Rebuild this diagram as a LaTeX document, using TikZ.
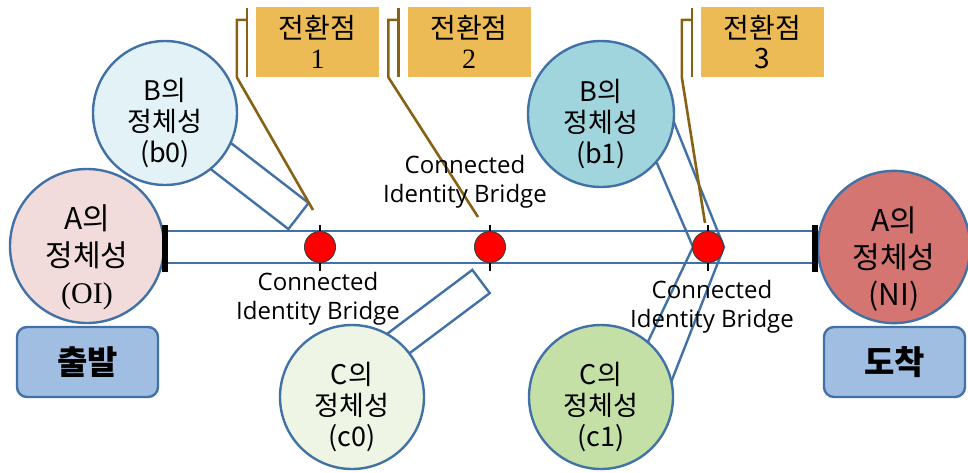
\documentclass[tikz,border=0pt]{standalone}
\usepackage{fontspec}
\setmainfont{Noto Sans CJK KR}
\newfontfamily\latinfont{Open Sans}
\newfontfamily\seriffont{Liberation Serif}
\usetikzlibrary{calc,backgrounds}
\definecolor{lineblue}{RGB}{65,113,165}
\definecolor{oifill}{RGB}{242,220,219}
\definecolor{nifill}{RGB}{212,117,114}
\definecolor{bzfill}{RGB}{227,242,246}
\definecolor{bofill}{RGB}{160,213,221}
\definecolor{czfill}{RGB}{238,245,228}
\definecolor{cofill}{RGB}{196,224,166}
\definecolor{endblue}{RGB}{160,190,226}
\definecolor{turnyellow}{RGB}{237,187,86}
\definecolor{turnbrown}{RGB}{135,98,20}
\newcommand\topstrut{\rule{0pt}{1.6em}}

\begin{document}
\begin{tikzpicture}[x=1pt,y=-1pt,
 idcirc/.style={circle,draw=lineblue,line width=2.4pt,inner sep=0pt,align=center},
 bigtxt/.style={font=\fontsize{30}{37}\selectfont},
 smalltxt/.style={font=\fontsize{27}{31}\selectfont},
 endbox/.style={rectangle,rounded corners=10pt,draw=lineblue,line width=2.4pt,fill=endblue,
   minimum width=141pt,minimum height=70pt,font=\fontsize{33}{33}\selectfont\bfseries},
 turnbox/.style={rectangle,fill=turnyellow,minimum width=123pt,minimum height=70pt,
   align=center,font=\fontsize{28}{30}\selectfont},
 turnline/.style={draw=turnbrown,line width=2.6pt},
 chan/.style={draw=lineblue,line width=2.4pt},
 bridge/.style={draw=lineblue,line width=2.4pt,line join=miter},
 marktick/.style={draw=black,line width=2pt},
 reddot/.style={circle,fill=red,draw=black!75,line width=1pt,minimum size=31pt,inner sep=0pt},
 cib/.style={align=center,font=\latinfont\fontsize{24}{29}\selectfont}]
 \useasboundingbox (0,0) rectangle (968,472);
 \node[idcirc,bigtxt,fill=oifill,minimum size=154pt] (a0) at (87,246) {\topstrut A의\\정체성\\{\seriffont (OI)}};
 \node[idcirc,bigtxt,fill=nifill,minimum size=152pt] (an) at (894,247) {\topstrut A의\\정체성\\(NI)};
 \node[idcirc,smalltxt,fill=bzfill,minimum size=144pt] (b0) at (165,113) {\topstrut B의\\정체성\\(b0)};
 \node[idcirc,smalltxt,fill=bofill,minimum size=146pt] (b1) at (601,114) {\topstrut B의\\정체성\\(b1)};
 \node[idcirc,smalltxt,fill=czfill,minimum size=144pt] (c0) at (352,397) {\topstrut C의\\정체성\\(c0)};
 \node[idcirc,smalltxt,fill=cofill,minimum size=144pt] (c1) at (601,397) {\topstrut C의\\정체성\\(c1)};
 \node[endbox] (start) at (87.5,362) {출발};
 \node[endbox] (goal) at (894.5,362) {도착};
 \coordinate (s) at (165,247);
 \coordinate (e) at (815,247);
 \draw[chan] ($(s)+(0,-16)$) -- ($(e)+(0,-16)$) ($(s)+(0,16)$) -- ($(e)+(0,16)$);
 \draw[line width=6pt] ($(s)+(0,-22)$) -- ($(s)+(0,25)$) ($(e)+(0,-22)$) -- ($(e)+(0,25)$);
 \foreach \x/\n in {320/1,490/2,708/3}{
   \draw[marktick] (\x,225) -- (\x,271);
   \node[reddot] (d\n) at (\x,247) {};}
 \node[turnbox] (t1) at (317.5,42) {전환점\\{\seriffont 1}};
 \node[turnbox] (t2) at (469,42) {전환점\\{\seriffont 2}};
 \node[turnbox] (t3) at (762.5,42) {전환점\\3};
 \coordinate (p1) at ($(d1)+(-7,-37)$);
 \coordinate (p2) at ($(d2)+(-12,-30)$);
 \coordinate (p3) at ($(d3)+(-3,-24)$);
 \foreach \n in {1,2,3}{
   \draw[turnline] ($(t\n.north west)+(-9,1)$) -- ($(t\n.south west)+(-9,0)$);
   \draw[turnline] ($(t\n.north west)+(-9,13)$) -- ++(-10,0) -- ($(t\n.south west)+(-19,0)$) -- (p\n);}
 \node[cib] (l1) at (318,299) {Connected\\Identity Bridge};
 \node[cib] (l2) at (465,182) {Connected\\Identity Bridge};
 \node[cib] (l3) at (712,307) {Connected\\Identity Bridge};
 \begin{scope}[on background layer]
  \coordinate (q1) at ($(d1)+(-21.5,-31)$);
  \coordinate (q2) at ($(d2)+(-9,34.5)$);
  \coordinate (r2) at (361,371.5);
  \foreach \a/\b/\h in {b0/q1/16.5pt,r2/q2/14.5pt}
    \draw[bridge] ($(\a)!\h!90:(\b)$) -- ($(\b)!\h!-90:(\a)$) -- ($(\b)!\h!90:(\a)$) -- ($(\a)!\h!-90:(\b)$);
  \draw[bridge] ($(d3)+(-61,-107)$) -- ($(d3)+(-15,0)$) -- ($(d3)+(-64,103)$);
  \draw[bridge] ($(d3)+(-39,-137)$) -- ($(d3)+(16,0)$) -- ($(d3)+(-40,143)$);
 \end{scope}
\end{tikzpicture}
\end{document}
